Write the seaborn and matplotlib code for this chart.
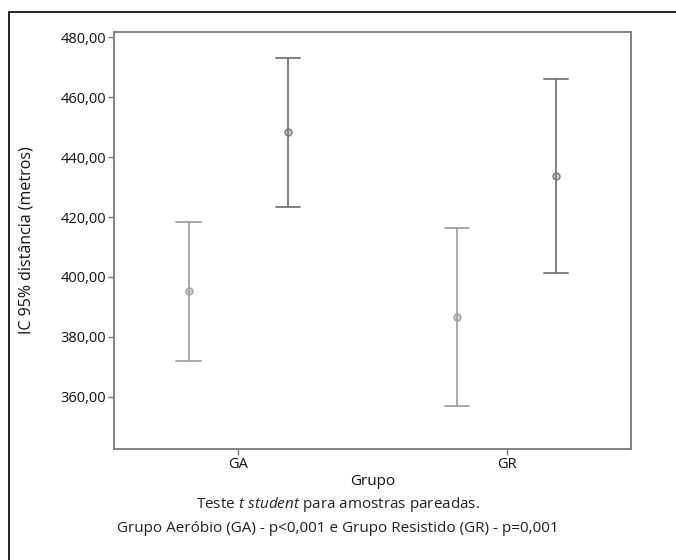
import pandas as pd
import numpy as np
import matplotlib
matplotlib.use('Agg')
import matplotlib.pyplot as plt
from matplotlib.patches import Rectangle
import seaborn as sns

# ===============================
# Data (mean and 95% CI)
# ===============================
grupos = ['GA', 'GR']
momentos = ['Pré', 'Pós']
media = {'GA': [395.3, 448.3], 'GR': [386.6, 433.6]}
ic_inf = {'GA': [371.9, 423.4], 'GR': [356.8, 401.2]}
ic_sup = {'GA': [418.4, 473.1], 'GR': [416.4, 466.1]}
yticks = [360, 380, 400, 420, 440, 460, 480]

# long table: lower, mean, upper per group/moment -> median = mean, pi 100 = CI
rows = []
for g in grupos:
    for i, m in enumerate(momentos):
        for v in (ic_inf[g][i], media[g][i], ic_sup[g][i]):
            rows.append({'Grupo': g, 'Momento': m, 'valor': v})
df = pd.DataFrame(rows)

# ===============================
# Style
# ===============================
sns.set_theme(style='white')
plt.rcParams['font.family'] = ['Open Sans', 'DejaVu Sans']
plt.rcParams['mathtext.fontset'] = 'custom'
plt.rcParams['mathtext.rm'] = 'Open Sans'
plt.rcParams['mathtext.it'] = 'Open Sans:italic'

fig = plt.figure(figsize=(6.76, 5.6), dpi=100)
ax = fig.add_axes([0.169, 0.199, 0.764, 0.744])

sns.pointplot(
    data=df, x='Grupo', y='valor', hue='Momento', order=grupos, hue_order=momentos,
    estimator='median', errorbar=('pi', 100), dodge=0.372, linestyle='none',
    palette=['#a2a2a2', '#777777'], markers='o', markersize=5,
    markerfacecolor='#cfcfcf', markeredgewidth=1.0,
    capsize=0.09, err_kws={'linewidth': 1.3}, legend=False, ax=ax
)

ax.set_xlim(-0.463, 1.463)
ax.set_ylim(342.7, 481.8)
ax.set_yticks(yticks)
ax.set_yticklabels([f'{v:.2f}'.replace('.', ',') for v in yticks])

for s in ax.spines.values():
    s.set_color('#7a7a7a')
    s.set_linewidth(1.3)
ax.tick_params(axis='both', which='major', length=4, width=1, color='#7a7a7a',
               direction='out', labelsize=10.5, labelcolor='#111111', pad=2)
ax.tick_params(left=True, bottom=True)

ax.set_ylabel('IC 95% distância (metros)', fontsize=11.5, color='#111111')
ax.yaxis.set_label_coords(-0.154, 0.5)
ax.set_xlabel('Grupo', fontsize=11, color='#111111')
ax.xaxis.set_label_coords(0.5, -0.08)
ax.xaxis.label.set_va('center')

fig.text(0.5, 1 - 505 / 560, r'Teste $\mathit{t\ student}$ para amostras pareadas.',
         ha='center', va='center', fontsize=11, color='#222222')
fig.text(0.5, 1 - 528 / 560, 'Grupo Aeróbio (GA) - p<0,001 e Grupo Resistido (GR) - p=0,001',
         ha='center', va='center', fontsize=11, color='#222222')

# outer frame (only left and top edges fall inside the image)
fig.add_artist(Rectangle((9 / 676, -0.1), 1.2, 1 - 12 / 560 + 0.1,
                         transform=fig.transFigure, fill=False,
                         edgecolor='black', linewidth=1.2))

fig.savefig('out.png', dpi=100)
